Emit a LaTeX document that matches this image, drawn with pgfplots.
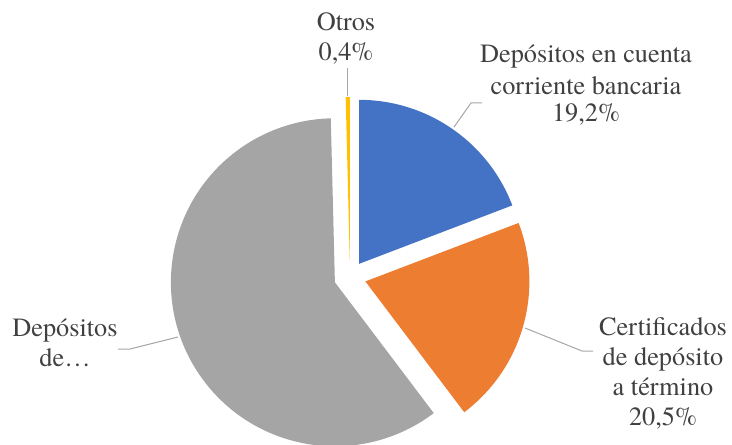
\documentclass[border=0pt]{standalone}
\usepackage{pgfplots}
\pgfplotsset{compat=1.18}
\usepackage{fontspec}
\setmainfont{texgyretermes-regular.otf}
\usetikzlibrary{calc}
\definecolor{pblue}{HTML}{4472C4}
\definecolor{porange}{HTML}{ED7D31}
\definecolor{pgray}{HTML}{A5A5A5}
\definecolor{pyellow}{HTML}{FFC000}
\definecolor{ptext}{HTML}{404040}
\definecolor{pline}{HTML}{A6A6A6}
\begin{document}
\begin{tikzpicture}
\begin{axis}[
  at={(0,0)}, anchor=origin,
  x=1pt, y=1pt, xmin=0, xmax=732, ymin=0, ymax=445,
  hide axis, clip=false,
]
\addplot[draw=none] coordinates {(0,0) (732,445)};
% pie: values in percent, centre (350,168), radius 164, explosion 16
\pgfplotsextra{
  \gdef\cum{90}
  \foreach \v/\c in {19.2/pblue, 20.5/porange, 59.9/pgray, 0.4/pyellow}{
    \pgfmathsetmacro\a{\cum}
    \pgfmathsetmacro\b{\cum-3.6*\v}
    \pgfmathsetmacro\m{(\a+\b)/2}
    \fill[\c] ($(axis cs:350,168)+(\m:16pt)$) -- +(\a:164pt)
      arc[start angle=\a, end angle=\b, radius=164pt] -- cycle;
    \xdef\cum{\b}
  }
}
% leader lines
\draw[pline, line width=1pt] (axis cs:347,349) -- (axis cs:347,377);
\draw[pline, line width=1pt] (axis cs:454,318) -- (axis cs:471,342) -- (axis cs:482,342);
\draw[pline, line width=1pt] (axis cs:525,117) -- (axis cs:582,94) -- (axis cs:593,94);
\draw[pline, line width=1pt] (axis cs:178,108) -- (axis cs:130,96) -- (axis cs:118,96);
% labels
\begin{scope}[every node/.style={text=ptext, font=\fontsize{26.3pt}{30pt}\selectfont, anchor=base, inner sep=0pt}]
\node at (axis cs:346,414) {Otros};
\node at (axis cs:346,384) {0,4\%};
\node at (axis cs:586,382) {Depósitos en cuenta};
\node at (axis cs:586,350) {corriente bancaria};
\node at (axis cs:586,323) {19,2\%};
\node at (axis cs:663,110) {Certificados};
\node at (axis cs:663,80) {de depósito};
\node at (axis cs:663,50) {a término};
\node at (axis cs:663,20) {20,5\%};
\node at (axis cs:65,108) {Depósitos};
\node at (axis cs:65,78) {de…};
\end{scope}
\end{axis}
\pgfresetboundingbox
\path[use as bounding box] (0,0) rectangle (732pt,445pt);
\end{tikzpicture}
\end{document}
